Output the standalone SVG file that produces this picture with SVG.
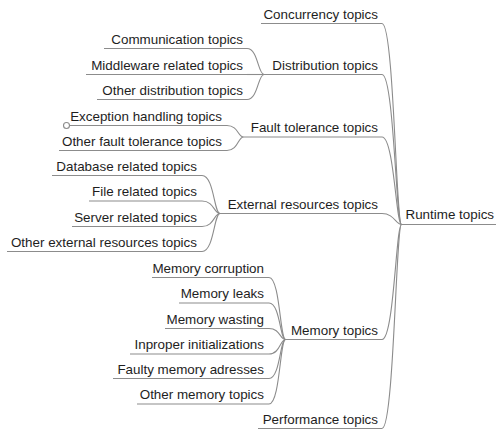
<svg xmlns="http://www.w3.org/2000/svg" width="496" height="430" viewBox="0 0 496 430">
<style>
text{font-family:"Liberation Sans",Arial,sans-serif;font-size:13.4px;fill:#1e1e1e}
.r{text-anchor:end}
line,path,circle{stroke:#8c8c8c;stroke-width:1.1;fill:none}
circle{fill:#fff}
</style>
<rect width="496" height="430" fill="#fff"/>
<g id="connectors">
<path d="M382 23.5 C394 23.5 396 224.5 401.5 224.5"/>
<path d="M382 74.5 C394 74.5 396 224.5 401.5 224.5"/>
<path d="M382 137 C394 137 396 224.5 401.5 224.5"/>
<path d="M382 213.5 C394 213.5 396 224.5 401.5 224.5"/>
<path d="M382 339.5 C394 339.5 396 224.5 401.5 224.5"/>
<path d="M382 428.5 C394 428.5 396 224.5 401.5 224.5"/>
<path d="M247 48.5 C258 48.5 258 74.5 264 74.5"/>
<path d="M247 74.5 L264 74.5"/>
<path d="M247 99.5 C258 99.5 258 74.5 264 74.5"/>
<path d="M227 125.5 C238 125.5 238 137 243.5 137"/>
<path d="M227 150.5 C238 150.5 238 137 243.5 137"/>
<path d="M202 175.5 C214 175.5 214 213.5 220 213.5"/>
<path d="M202 201 C214 201 214 213.5 220 213.5"/>
<path d="M202 226.5 C214 226.5 214 213.5 220 213.5"/>
<path d="M202 251.5 C214 251.5 214 213.5 220 213.5"/>
<path d="M269 277.5 C280 277.5 280 339.5 285.5 339.5"/>
<path d="M269 303 C280 303 280 339.5 285.5 339.5"/>
<path d="M269 328.5 C280 328.5 280 339.5 285.5 339.5"/>
<path d="M269 354 C280 354 280 339.5 285.5 339.5"/>
<path d="M269 378.5 C280 378.5 280 339.5 285.5 339.5"/>
<path d="M269 404 C280 404 280 339.5 285.5 339.5"/>
</g>
<g id="root"><line x1="401.5" y1="224.5" x2="496" y2="224.5"/><text x="405.5" y="219">Runtime topics</text></g>
<g id="concurrency"><line x1="261" y1="23.5" x2="382" y2="23.5"/><text class="r" x="378" y="18.5">Concurrency topics</text></g>
<g id="distribution"><line x1="264" y1="74.5" x2="382" y2="74.5"/><text class="r" x="378" y="69.5">Distribution topics</text></g>
<g id="fault"><line x1="243.5" y1="137" x2="382" y2="137"/><text class="r" x="378" y="132">Fault tolerance topics</text></g>
<g id="external"><line x1="220" y1="213.5" x2="382" y2="213.5"/><text class="r" x="378" y="208.5">External resources topics</text></g>
<g id="memory"><line x1="285.5" y1="339.5" x2="382" y2="339.5"/><text class="r" x="378" y="334.5">Memory topics</text></g>
<g id="performance"><line x1="258" y1="428.5" x2="382" y2="428.5"/><text class="r" x="378" y="423.5">Performance topics</text></g>
<g id="communication"><line x1="104" y1="48.5" x2="247" y2="48.5"/><text class="r" x="243" y="43.5">Communication topics</text></g>
<g id="middleware"><line x1="86" y1="74.5" x2="247" y2="74.5"/><text class="r" x="243" y="69.5">Middleware related topics</text></g>
<g id="otherdist"><line x1="97" y1="99.5" x2="247" y2="99.5"/><text class="r" x="243" y="94.5">Other distribution topics</text></g>
<g id="exception"><circle cx="66.5" cy="125.5" r="3"/><line x1="69.5" y1="125.5" x2="227" y2="125.5"/><text class="r" x="222" y="120.5">Exception handling topics</text></g>
<g id="otherfault"><line x1="59" y1="150.5" x2="227" y2="150.5"/><text class="r" x="222" y="145.5">Other fault tolerance topics</text></g>
<g id="database"><line x1="52" y1="175.5" x2="202" y2="175.5"/><text class="r" x="197" y="170.5">Database related topics</text></g>
<g id="file"><line x1="89" y1="201" x2="202" y2="201"/><text class="r" x="197" y="196">File related topics</text></g>
<g id="server"><line x1="72" y1="226.5" x2="202" y2="226.5"/><text class="r" x="197" y="221.5">Server related topics</text></g>
<g id="otherext"><line x1="7" y1="251.5" x2="202" y2="251.5"/><text class="r" x="197" y="246.5">Other external resources topics</text></g>
<g id="corruption"><line x1="152" y1="277.5" x2="269" y2="277.5"/><text class="r" x="264" y="272.5">Memory corruption</text></g>
<g id="leaks"><line x1="179" y1="303" x2="269" y2="303"/><text class="r" x="264" y="298">Memory leaks</text></g>
<g id="wasting"><line x1="165" y1="328.5" x2="269" y2="328.5"/><text class="r" x="264" y="323.5">Memory wasting</text></g>
<g id="init"><line x1="130" y1="354" x2="269" y2="354"/><text class="r" x="264" y="349">Inproper initializations</text></g>
<g id="faulty"><line x1="113" y1="378.5" x2="269" y2="378.5"/><text class="r" x="264" y="373.5">Faulty memory adresses</text></g>
<g id="othermem"><line x1="137" y1="404" x2="269" y2="404"/><text class="r" x="264" y="399">Other memory topics</text></g>
</svg>
